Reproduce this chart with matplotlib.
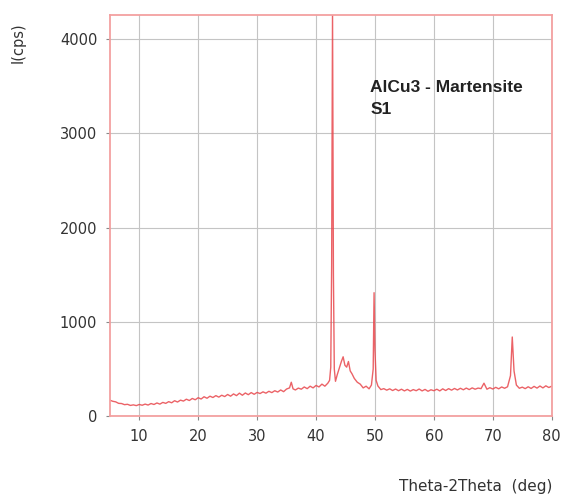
import matplotlib
matplotlib.use("Agg")
import matplotlib.pyplot as plt

# XRD scan, AlCu3 martensite sample S1
two_theta = [
    5.0, 5.5, 6.0, 6.5, 7.0, 7.5, 8.0, 8.5, 9.0, 9.5,
    10.0, 10.5, 11.0, 11.5, 12.0, 12.5, 13.0, 13.5, 14.0, 14.5,
    15.0, 15.5, 16.0, 16.5, 17.0, 17.5, 18.0, 18.5, 19.0, 19.5,
    20.0, 20.5, 21.0, 21.5, 22.0, 22.5, 23.0, 23.5, 24.0, 24.5,
    25.0, 25.5, 26.0, 26.5, 27.0, 27.5, 28.0, 28.5, 29.0, 29.5,
    30.0, 30.5, 31.0, 31.5, 32.0, 32.5, 33.0, 33.5, 34.0, 34.5,
    35.0, 35.5, 35.8, 36.1, 36.5, 37.0, 37.5, 38.0, 38.5, 39.0,
    39.5, 40.0, 40.5, 41.0, 41.5, 42.0, 42.3, 42.5, 42.65, 42.8,
    42.95, 43.1, 43.3, 43.6, 44.0, 44.3, 44.6, 44.9, 45.2, 45.5,
    45.8, 46.1, 46.5, 47.0, 47.5, 48.0, 48.5, 49.0, 49.4, 49.7,
    49.85, 50.0, 50.2, 50.5, 51.0, 51.5, 52.0, 52.5, 53.0, 53.5,
    54.0, 54.5, 55.0, 55.5, 56.0, 56.5, 57.0, 57.5, 58.0, 58.5,
    59.0, 59.5, 60.0, 60.5, 61.0, 61.5, 62.0, 62.5, 63.0, 63.5,
    64.0, 64.5, 65.0, 65.5, 66.0, 66.5, 67.0, 67.5, 68.0, 68.5,
    69.0, 69.5, 70.0, 70.5, 71.0, 71.5, 72.0, 72.5, 73.0, 73.3,
    73.6, 74.0, 74.5, 75.0, 75.5, 76.0, 76.5, 77.0, 77.5, 78.0,
    78.5, 79.0, 79.5, 80.0,
]
intensity = [
    170, 158, 152, 136, 134, 122, 126, 114, 120, 112,
    124, 116, 128, 118, 134, 124, 140, 128, 146, 136,
    154, 142, 164, 150, 170, 160, 180, 166, 188, 174,
    196, 182, 206, 190, 212, 198, 218, 202, 222, 208,
    230, 212, 236, 218, 244, 222, 246, 228, 250, 232,
    252, 240, 258, 244, 264, 250, 270, 256, 278, 260,
    288, 300, 360, 290, 278, 298, 286, 310, 292, 318,
    300, 326, 310, 340, 318, 350, 380, 520, 1600, 4300,
    1500, 500, 370, 440, 520, 580, 630, 540, 520, 580,
    480, 450, 400, 360, 340, 300, 318, 290, 330, 500,
    1310, 700, 380, 320, 282, 292, 276, 290, 272, 288,
    270, 286, 268, 284, 266, 282, 270, 288, 268, 284,
    264, 280, 270, 286, 268, 290, 272, 292, 276, 294,
    278, 296, 280, 298, 282, 300, 286, 298, 292, 350,
    286, 302, 288, 306, 290, 310, 296, 312, 430, 840,
    480, 330, 296, 308, 292, 312, 294, 316, 298, 320,
    300, 322, 304, 318,
]

x_ticks = [10, 20, 30, 40, 50, 60, 70, 80]
y_ticks = [0, 1000, 2000, 3000, 4000]

frame_red = "#f3a0a0"
trace_red = "#e8474c"

fig = plt.figure(figsize=(5.63, 4.99), dpi=100)
ax = fig.add_axes([0.195, 0.166, 0.785, 0.804])

ax.plot(two_theta, intensity, color=trace_red, lw=1.0, alpha=0.85)

ax.set_xlim(5, 80)
ax.set_ylim(0, 4257)
ax.set_xticks(x_ticks)
ax.set_yticks(y_ticks)
ax.grid(True, color="#c4c4c4", lw=0.8)
ax.set_axisbelow(True)

for sp in ax.spines.values():
    sp.set_color(frame_red)
    sp.set_linewidth(1.3)

ax.tick_params(colors="#888888", labelcolor="#333333", labelsize=10.5, length=3, pad=6)

ax.text(49.2, 3570, "AlCu3 - Martensite\nS1", fontsize=12.5, fontweight="bold",
        family="Liberation Sans", color="#222222", va="top", linespacing=1.6)

fig.text(0.032, 0.915, "I(cps)", rotation=90, fontsize=10.5, color="#333333",
         ha="center", va="center")
fig.text(0.845, 0.025, "Theta-2Theta  (deg)", fontsize=11, color="#333333",
         ha="center", va="center")

fig.savefig("out.png", dpi=100)
